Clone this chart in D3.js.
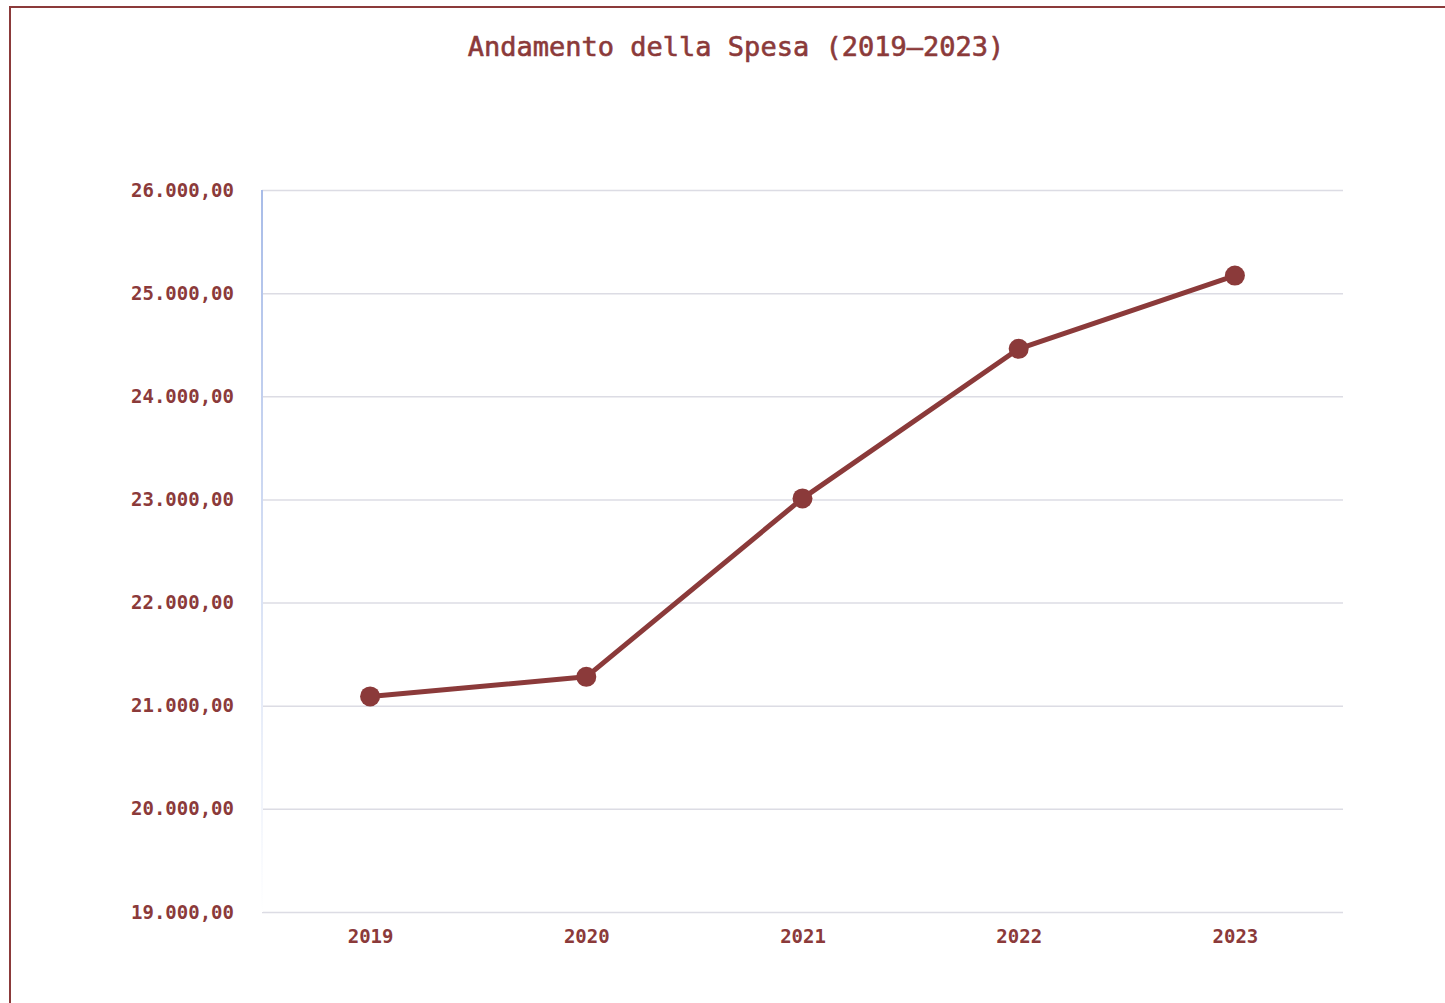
<!DOCTYPE html>
<html>
<head>
<meta charset="utf-8">
<script src="https://cdn.jsdelivr.net/npm/d3@7"></script>
<style>
  body { margin: 0; background: #fff; }
  #chart { position: absolute; left: 9px; top: 6px; width: 1460px; height: 1020px;
           border-left: 2px solid #8b3a3a; border-top: 2px solid #8b3a3a; box-sizing: border-box; }
</style>
</head>
<body>
<div id="chart"></div>
<script>
var years = ["2019", "2020", "2021", "2022", "2023"];
var spesa = [21090, 21280, 23010, 24460, 25170];
var yTicks = [19000, 20000, 21000, 22000, 23000, 24000, 25000, 26000];

var svgW = 1445, svgH = 1003;
var margin = { left: 262, right: 102, top: 190, bottom: 91 };
var chartW = svgW - margin.left - margin.right;
var chartH = svgH - margin.top - margin.bottom;
var color = "#8b3a3a";
var font = "'DejaVu Sans Mono', monospace";

var svg = d3.select("body").append("svg")
    .attr("width", svgW).attr("height", svgH)
    .style("position", "absolute").style("left", 0).style("top", 0);

var defs = svg.append("defs");
var grad = defs.append("linearGradient").attr("id", "axisGrad")
    .attr("x1", 0).attr("y1", 0).attr("x2", 0).attr("y2", 1);
grad.append("stop").attr("offset", "0%").attr("stop-color", "#a8bce8");
grad.append("stop").attr("offset", "100%").attr("stop-color", "#ffffff");

svg.append("text")
   .attr("x", 736).attr("y", 56)
   .attr("text-anchor", "middle")
   .attr("font-family", font).attr("font-size", 27)
   .attr("fill", color).attr("stroke", color).attr("stroke-width", 0.6)
   .text("Andamento della Spesa (2019\u20132023)");

var g = svg.append("g").attr("transform", `translate(${margin.left}, ${margin.top})`);

var xScale = d3.scalePoint().domain(years).range([0, chartW]).padding(0.5);
var yScale = d3.scaleLinear().domain([19000, 26000]).range([chartH, 0]);

var fmt = d3.formatLocale({ decimal: ",", thousands: ".", grouping: [3], currency: ["€", ""] }).format(",.2f");

// gridlines
var leftAxis = d3.axisLeft(yScale).tickValues(yTicks).tickSize(-chartW).tickFormat(fmt).tickPadding(28);
var yg = g.append("g").call(leftAxis);
yg.select(".domain").remove();
yg.selectAll(".tick line").attr("stroke", "#dcdce4").attr("stroke-width", 1.5);
yg.selectAll(".tick text")
  .attr("font-family", font).attr("font-size", 19).attr("font-weight", "bold")
  .attr("fill", color);

g.append("rect").attr("x", -1).attr("y", 0).attr("width", 2).attr("height", chartH)
 .attr("fill", "url(#axisGrad)");

var bottomAxis = d3.axisBottom(xScale).tickSize(0).tickPadding(18);
var xg = g.append("g").attr("transform", `translate(0, ${chartH})`).call(bottomAxis);
xg.select(".domain").remove();
xg.selectAll(".tick text")
  .attr("font-family", font).attr("font-size", 19).attr("font-weight", "bold")
  .attr("fill", color);

var line = d3.line().x((d, i) => xScale(years[i])).y(d => yScale(d));
g.append("path").datum(spesa)
 .attr("d", line).attr("fill", "none")
 .attr("stroke", color).attr("stroke-width", 5).attr("stroke-linejoin", "round");

g.selectAll("circle").data(spesa).enter().append("circle")
 .attr("cx", (d, i) => xScale(years[i]))
 .attr("cy", d => yScale(d))
 .attr("r", 10)
 .attr("fill", color);
</script>
</body>
</html>
